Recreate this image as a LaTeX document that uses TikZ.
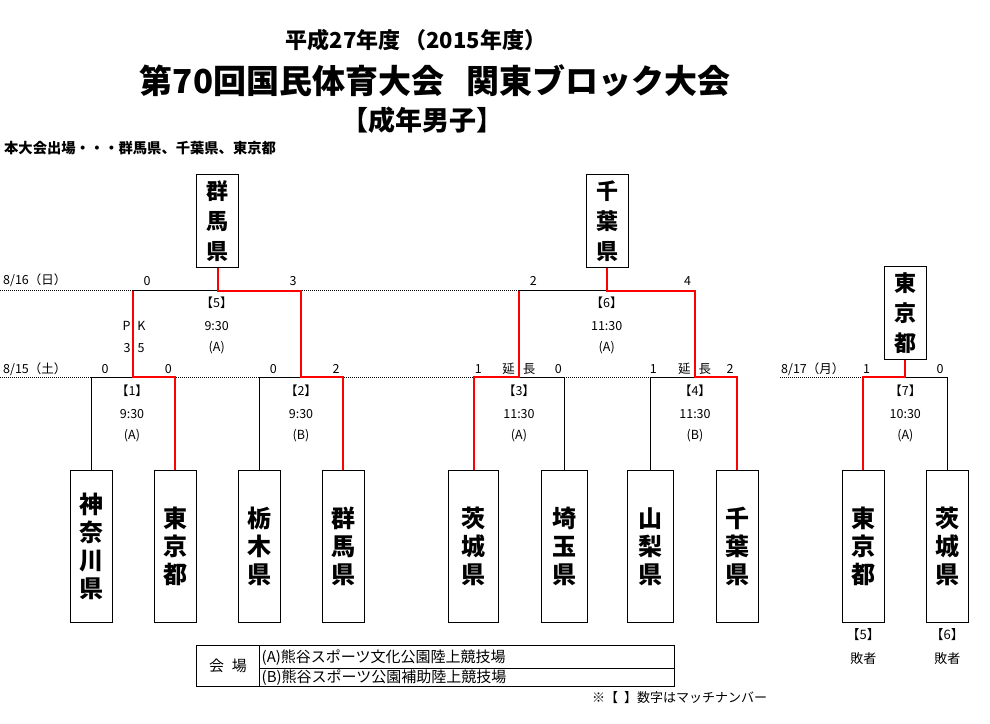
\documentclass[tikz,border=0pt]{standalone}
\usepackage{fontspec}
\setmainfont{Noto Sans CJK JP}
\begin{document}
\begin{tikzpicture}[x=1pt,y=-1pt,
  blk/.style={draw=black, line width=1pt},
  win/.style={draw=red, line width=2pt},
  dotl/.style={draw=black, line width=0.8pt, dash pattern=on 1pt off 1pt},
  team/.style={draw, line width=1.2pt, minimum width=42pt, minimum height=151.6pt, inner sep=0pt, align=center, font=\bfseries\fontsize{24}{28}\selectfont},
  champ/.style={draw, line width=1.2pt, minimum width=42pt, minimum height=93pt, inner sep=0pt, align=center, font=\bfseries\fontsize{22}{30}\selectfont},
  lbl/.style={inner sep=0pt, font=\fontsize{12.5}{12.5}\selectfont},
  tbl/.style={inner sep=0pt, font=\fontsize{15}{15}\selectfont},
]
\useasboundingbox (0,0) rectangle (990,723);

% titles
\node[font=\bfseries\fontsize{22}{22}\selectfont] (t1) at (416,40) {平成27年度\hspace{4pt}（2015年度）};
\node[font=\bfseries\fontsize{33}{33}\selectfont] (t2) at (435,81) {第70回国民体育大会\hspace{22pt}関東ブロック大会};
\node[font=\bfseries\fontsize{27}{27}\selectfont] (t3) at (422,120) {【成年男子】};
\node[anchor=west, inner sep=0pt, font=\bfseries\fontsize{14.3}{14.3}\selectfont] (t4) at (4,148) {本大会出場・・・群馬県、千葉県、東京都};

% match points
\coordinate (m1) at (133.3,377.3);
\coordinate (m2) at (301,377.3);
\coordinate (m3) at (519,377.3);
\coordinate (m4) at (695,377.3);
\coordinate (m7) at (905.3,377.3);
\coordinate (m5) at (217.5,290.7);
\coordinate (m6) at (607.3,290.7);
\coordinate (d16) at (0,290.7);
\coordinate (d15) at (0,377.3);
\coordinate (d17) at (780,377.3);

% team boxes
\node[team] (kana) at (91.3,546.5) {神\\奈\\川\\県};
\node[team] (tokyoA) at (175.3,546.5) {東\\京\\都};
\node[team] (tochigi) at (259.3,546.5) {栃\\木\\県};
\node[team] (gunmaT) at (343.3,546.5) {群\\馬\\県};
\node[team, minimum width=50pt] (ibarakiA) at (473.5,546.5) {茨\\城\\県};
\node[team, minimum width=46pt] (saitama) at (564.3,546.5) {埼\\玉\\県};
\node[team, minimum width=46pt] (yamanashi) at (650.3,546.5) {山\\梨\\県};
\node[team] (chibaT) at (737.3,546.5) {千\\葉\\県};
\node[team] (tokyoB) at (863.3,546.5) {東\\京\\都};
\node[team] (ibarakiB) at (947.3,546.5) {茨\\城\\県};

% champion boxes
\node[champ] (gunmaW) at (217.5,220.8) {群\\馬\\県};
\node[champ] (chibaW) at (607.3,220.8) {千\\葉\\県};
\node[champ] (tokyoW) at (905.3,313.3) {東\\京\\都};

% dotted date lines
\draw[dotl] (d16) -- (m6 -| m3);
\draw[dotl] (d15) -- (m4 -| chibaT.north);
\draw[dotl] (d17) -- (m7 -| tokyoB.north);

% black (losing) lines
\draw[blk] (kana.north) |- (m1);
\draw[blk] (tochigi.north) |- (m2);
\draw[blk] (m3) -| (saitama.north);
\draw[blk] (yamanashi.north) |- (m4);
\draw[blk] (m7) -| (ibarakiB.north);
\draw[blk] (m5) -- (m5 -| m1);
\draw[blk] (m6) -- (m6 -| m3);

% red (winning) lines
\draw[win] (m5 -| m1) -- (m1) -| (tokyoA.north);
\draw[win] (gunmaW.south) -- (m5) -| (m2) -| (gunmaT.north);
\draw[win] (m6 -| m3) -- (m3) -| (ibarakiA.north);
\draw[win] (chibaW.south) -- (m6) -| (m4) -| (chibaT.north);
\draw[win] (tokyoW.south) -- (m7) -| (tokyoB.north);

% dates
\node[lbl, anchor=west] (dt16) at (3,280.7) {8/16（日）};
\node[lbl, anchor=west] (dt15) at (3,369.3) {8/15（土）};
\node[lbl, anchor=west] (dt17) at (781,369.3) {8/17（月）};

% scores
\node[lbl] (s5a) at (147,280.7) {0};
\node[lbl] (s5b) at (293,280.7) {3};
\node[lbl] (s6a) at (533.3,280.7) {2};
\node[lbl] (s6b) at (687.7,280.7) {4};
\node[lbl] (s1a) at (105,369.3) {0};
\node[lbl] (s1b) at (168.3,369.3) {0};
\node[lbl] (s2a) at (273.3,369.3) {0};
\node[lbl] (s2b) at (336,369.3) {2};
\node[lbl] (s3a) at (478.3,369.3) {1};
\node[lbl] (s3x) at (518.8,369.3) {延\hspace{8pt}長};
\node[lbl] (s3b) at (558.3,369.3) {0};
\node[lbl] (s4a) at (653.3,369.3) {1};
\node[lbl] (s4x) at (694.7,369.3) {延\hspace{8pt}長};
\node[lbl] (s4b) at (730,369.3) {2};
\node[lbl] (s7a) at (866.7,369.3) {1};
\node[lbl] (s7b) at (940,369.3) {0};
\node[lbl] (pk1) at (134,326) {P\hspace{7pt}K};
\node[lbl] (pk2) at (134,348) {3\hspace{7pt}5};

% match info
\foreach \nm/\x/\y/\num/\tm/\vn in {i5/216.7/302.7/5/9:30/A, i6/606.7/302.7/6/11:30/A, i1/132/390.7/1/9:30/A, i2/301/390.7/2/9:30/B, i3/519/390.7/3/11:30/A, i4/695/390.7/4/11:30/B, i7/905.3/390.7/7/10:30/A}{
  \node[lbl] (\nm n) at (\x,\y) {【\num】};
  \node[lbl] (\nm t) at (\x,\y+23.3) {\tm};
  \node[lbl] (\nm v) at (\x,\y+45.3) {(\vn)};
}

% losers note
\node[lbl, font=\fontsize{13}{13}\selectfont] (l5n) at (863.3,635) {【5】};
\node[lbl, font=\fontsize{13}{13}\selectfont] (l5t) at (863.3,659) {敗者};
\node[lbl, font=\fontsize{13}{13}\selectfont] (l6n) at (947.3,635) {【6】};
\node[lbl, font=\fontsize{13}{13}\selectfont] (l6t) at (947.3,659) {敗者};

% venue table
\coordinate (tbA) at (196.7,645.3);
\coordinate (tbB) at (674.3,686.3);
\draw[line width=1.2pt] (tbA) rectangle (tbB);
\draw[line width=1pt] (259.3,645.3) -- (259.3,686.3);
\draw[line width=1pt] (259.3,668.7) -- (674.3,668.7);
\node[tbl] (vk) at (228,665.5) {会\hspace{8pt}場};
\node[tbl, anchor=west] (va) at (261.5,657.5) {(A)熊谷スポーツ文化公園陸上競技場};
\node[tbl, anchor=west] (vb) at (261.5,677.8) {(B)熊谷スポーツ公園補助陸上競技場};
\node[lbl, font=\fontsize{13}{13}\selectfont] (note) at (679.5,698) {※【\hspace{6pt}】数字はマッチナンバー};
\end{tikzpicture}
\end{document}
